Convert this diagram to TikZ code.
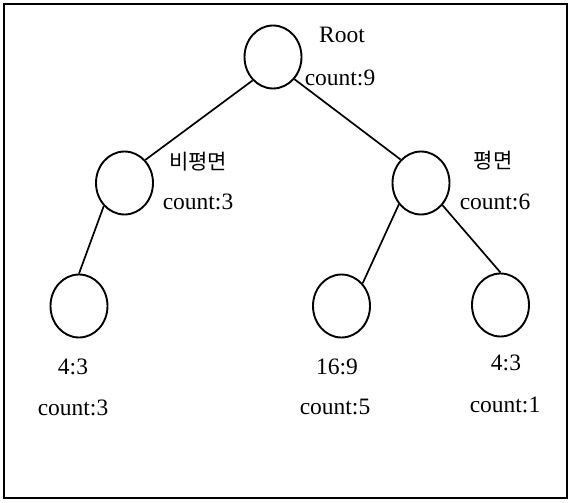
\documentclass[tikz,border=0pt]{standalone}
\usepackage{fontspec}
\setmainfont{Liberation Serif}
\newfontfamily\kr{Noto Sans CJK KR}
\usetikzlibrary{shapes.geometric}
\begin{document}
\begin{tikzpicture}[x=1pt,y=-1pt,
  tnode/.style={draw,line width=1.9pt,ellipse,minimum width=57pt,minimum height=63pt,inner sep=0pt},
  edge/.style={line width=1.7pt},
  lbl/.style={font=\fontsize{23.5}{26}\selectfont,inner sep=0pt},
  klbl/.style={font=\kr\fontsize{21}{24}\selectfont,inner sep=0pt}]
\useasboundingbox (0,0) rectangle (570,503);
\draw[line width=1.8pt] (4,4) rectangle (567,498);
\node[tnode] (root) at (273,57) {};
\node[tnode] (lm) at (124.5,183) {};
\node[tnode] (rm) at (421,183) {};
\node[tnode] (bl) at (79,306) {};
\node[tnode] (bm) at (341.5,306) {};
\node[tnode] (br) at (500.5,305) {};
\draw[edge] (root.-131) -- (lm.48);
\draw[edge] (root.-46) -- (rm.131);
\draw[edge] (lm.-132) -- (bl.north);
\draw[edge] (rm.-136) -- (bm.47);
\draw[edge] (rm.-46) -- (br.north);
\node[lbl] (troot) at (342,35) {Root};
\node[lbl] (croot) at (340,78) {count:9};
\node[klbl] (tlm) at (198,162) {비평면};
\node[lbl] (clm) at (198,202) {count:3};
\node[klbl] (trm) at (493,161) {평면};
\node[lbl] (crm) at (495,202) {count:6};
\node[lbl] (tbl) at (73,367) {4:3};
\node[lbl] (cbl) at (73,408) {count:3};
\node[lbl] (tbm) at (337,367) {16:9};
\node[lbl] (cbm) at (335,407) {count:5};
\node[lbl] (tbr) at (506,363) {4:3};
\node[lbl] (cbr) at (505,405) {count:1};
\end{tikzpicture}
\end{document}
